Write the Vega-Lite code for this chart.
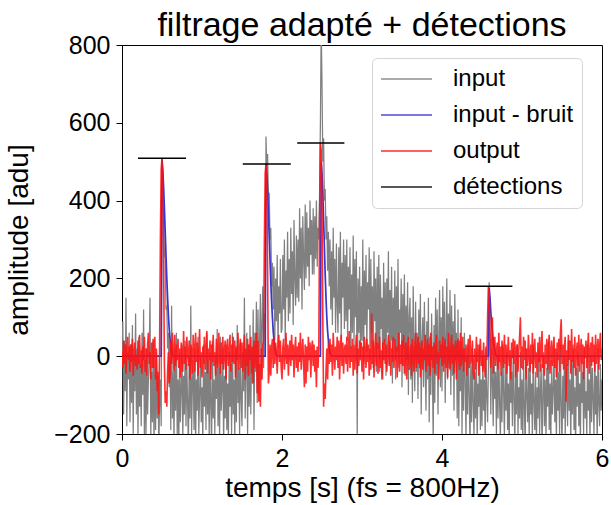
{
"$schema": "https://vega.github.io/schema/vega-lite/v6.json",
"width": 480, "height": 389,
"autosize": {"type": "none"},
"padding": {"left": 122, "top": 45, "right": 9, "bottom": 71},
"title": {"text": "filtrage adapté + détections"},
"datasets": {
"sig": [
{"t":0.00,"i":-20,"o":10},{"t":0.01,"i":90,"o":-30},{"t":0.02,"i":-150,"o":40},{"t":0.03,"i":40,"o":-20},{"t":0.04,"i":-90,"o":30},{"t":0.05,"i":150,"o":-45},{"t":0.06,"i":-180,"o":20},{"t":0.07,"i":10,"o":50},{"t":0.08,"i":-60,"o":-10},{"t":0.09,"i":60,"o":25},
{"t":0.10,"i":-170,"o":-40},{"t":0.11,"i":30,"o":30},{"t":0.12,"i":-120,"o":-15},{"t":0.13,"i":80,"o":45},{"t":0.14,"i":-200,"o":-50},{"t":0.15,"i":0,"o":10},{"t":0.16,"i":-90,"o":35},{"t":0.17,"i":110,"o":-25},{"t":0.18,"i":-150,"o":5},{"t":0.19,"i":20,"o":-35},
{"t":0.20,"i":-210,"o":40},{"t":0.21,"i":50,"o":-20},{"t":0.22,"i":-130,"o":55},{"t":0.23,"i":-20,"o":-30},{"t":0.24,"i":-180,"o":15},{"t":0.25,"i":60,"o":-45},{"t":0.26,"i":-100,"o":25},{"t":0.27,"i":120,"o":-10},{"t":0.28,"i":-220,"o":50},{"t":0.29,"i":-10,"o":-40},
{"t":0.30,"i":-200,"o":20},{"t":0.31,"i":20,"o":-50},{"t":0.32,"i":-150,"o":30},{"t":0.33,"i":-60,"o":60},{"t":0.34,"i":0,"o":-20},{"t":0.35,"i":150,"o":10},{"t":0.36,"i":-210,"o":-60},{"t":0.37,"i":-40,"o":35},{"t":0.38,"i":-170,"o":-30},{"t":0.39,"i":40,"o":45},
{"t":0.40,"i":-230,"o":-30},{"t":0.41,"i":-30,"o":50},{"t":0.42,"i":-190,"o":-60},{"t":0.43,"i":10,"o":20},{"t":0.44,"i":-160,"o":-90},{"t":0.45,"i":-50,"o":-40},{"t":0.46,"i":-240,"o":-150},{"t":0.47,"i":-120,"o":20},{"t":0.48,"i":-60,"o":300},{"t":0.49,"i":-180,"o":480},
{"t":0.50,"i":510,"o":509},{"t":0.51,"i":420,"o":450},{"t":0.52,"i":360,"o":250},{"t":0.53,"i":260,"o":-20},{"t":0.54,"i":250,"o":-120},{"t":0.55,"i":120,"o":-90},{"t":0.56,"i":130,"o":-130},{"t":0.57,"i":20,"o":-40},{"t":0.58,"i":60,"o":10},{"t":0.59,"i":-80,"o":-70},
{"t":0.60,"i":40,"o":-50},{"t":0.61,"i":-190,"o":40},{"t":0.62,"i":130,"o":-20},{"t":0.63,"i":-160,"o":60},{"t":0.64,"i":-40,"o":10},{"t":0.65,"i":-220,"o":-40},{"t":0.66,"i":20,"o":55},{"t":0.67,"i":-140,"o":-25},{"t":0.68,"i":60,"o":30},{"t":0.69,"i":-200,"o":-10},
{"t":0.70,"i":-60,"o":45},{"t":0.71,"i":-230,"o":-30},{"t":0.72,"i":10,"o":20},{"t":0.73,"i":-170,"o":-55},{"t":0.74,"i":-90,"o":35},{"t":0.75,"i":30,"o":0},{"t":0.76,"i":-210,"o":-40},{"t":0.77,"i":-50,"o":65},{"t":0.78,"i":-150,"o":-20},{"t":0.79,"i":40,"o":25},
{"t":0.80,"i":-180,"o":-35},{"t":0.81,"i":-20,"o":50},{"t":0.82,"i":-120,"o":10},{"t":0.83,"i":-240,"o":-25},{"t":0.84,"i":0,"o":40},{"t":0.85,"i":-160,"o":-60},{"t":0.86,"i":130,"o":30},{"t":0.87,"i":-200,"o":15},{"t":0.88,"i":-70,"o":-45},{"t":0.89,"i":-10,"o":55},
{"t":0.90,"i":-190,"o":20},{"t":0.91,"i":20,"o":-40},{"t":0.92,"i":-230,"o":60},{"t":0.93,"i":-60,"o":-15},{"t":0.94,"i":-140,"o":35},{"t":0.95,"i":50,"o":-50},{"t":0.96,"i":-200,"o":5},{"t":0.97,"i":-100,"o":70},{"t":0.98,"i":0,"o":-30},{"t":0.99,"i":-170,"o":10},
{"t":1.00,"i":-80,"o":-55},{"t":1.01,"i":-220,"o":25},{"t":1.02,"i":30,"o":-20},{"t":1.03,"i":-130,"o":50},{"t":1.04,"i":-40,"o":-35},{"t":1.05,"i":-190,"o":15},{"t":1.06,"i":60,"o":65},{"t":1.07,"i":-150,"o":-45},{"t":1.08,"i":-10,"o":20},{"t":1.09,"i":-210,"o":-10},
{"t":1.10,"i":10,"o":40},{"t":1.11,"i":-120,"o":-60},{"t":1.12,"i":-240,"o":30},{"t":1.13,"i":40,"o":-15},{"t":1.14,"i":-160,"o":55},{"t":1.15,"i":-60,"o":-25},{"t":1.16,"i":-200,"o":10},{"t":1.17,"i":0,"o":-50},{"t":1.18,"i":-110,"o":45},{"t":1.19,"i":70,"o":0},
{"t":1.20,"i":-180,"o":-30},{"t":1.21,"i":-30,"o":60},{"t":1.22,"i":-210,"o":-5},{"t":1.23,"i":50,"o":-45},{"t":1.24,"i":-140,"o":35},{"t":1.25,"i":-80,"o":-20},{"t":1.26,"i":20,"o":50},{"t":1.27,"i":-230,"o":-35},{"t":1.28,"i":-50,"o":15},{"t":1.29,"i":-160,"o":40},
{"t":1.30,"i":30,"o":-60},{"t":1.31,"i":-190,"o":20},{"t":1.32,"i":-70,"o":45},{"t":1.33,"i":-220,"o":-25},{"t":1.34,"i":10,"o":5},{"t":1.35,"i":-130,"o":55},{"t":1.36,"i":-20,"o":-40},{"t":1.37,"i":-200,"o":30},{"t":1.38,"i":60,"o":-15},{"t":1.39,"i":-150,"o":50},
{"t":1.40,"i":-60,"o":-20},{"t":1.41,"i":-210,"o":40},{"t":1.42,"i":20,"o":-55},{"t":1.43,"i":-170,"o":25},{"t":1.44,"i":80,"o":-10},{"t":1.45,"i":-120,"o":60},{"t":1.46,"i":-30,"o":-35},{"t":1.47,"i":-200,"o":15},{"t":1.48,"i":40,"o":45},{"t":1.49,"i":-110,"o":-30},
{"t":1.50,"i":-180,"o":35},{"t":1.51,"i":10,"o":-40},{"t":1.52,"i":-90,"o":10},{"t":1.53,"i":150,"o":55},{"t":1.54,"i":-160,"o":-60},{"t":1.55,"i":-20,"o":20},{"t":1.56,"i":60,"o":-25},{"t":1.57,"i":-200,"o":45},{"t":1.58,"i":30,"o":-50},{"t":1.59,"i":-130,"o":30},
{"t":1.60,"i":80,"o":-10},{"t":1.61,"i":-150,"o":50},{"t":1.62,"i":20,"o":-45},{"t":1.63,"i":-70,"o":25},{"t":1.64,"i":120,"o":-70},{"t":1.65,"i":-190,"o":40},{"t":1.66,"i":60,"o":-30},{"t":1.67,"i":-40,"o":15},{"t":1.68,"i":140,"o":60},{"t":1.69,"i":-120,"o":-95},
{"t":1.70,"i":120,"o":40},{"t":1.71,"i":-100,"o":-117},{"t":1.72,"i":40,"o":-20},{"t":1.73,"i":160,"o":-130},{"t":1.74,"i":-60,"o":20},{"t":1.75,"i":90,"o":-60},{"t":1.76,"i":180,"o":30},{"t":1.77,"i":-30,"o":40},{"t":1.78,"i":110,"o":300},{"t":1.79,"i":60,"o":470},
{"t":1.80,"i":565,"o":494},{"t":1.81,"i":480,"o":440},{"t":1.82,"i":520,"o":220},{"t":1.83,"i":400,"o":-70},{"t":1.84,"i":420,"o":-40},{"t":1.85,"i":300,"o":30},{"t":1.86,"i":330,"o":-50},{"t":1.87,"i":180,"o":20},{"t":1.88,"i":240,"o":45},{"t":1.89,"i":120,"o":-30},
{"t":1.90,"i":230,"o":50},{"t":1.91,"i":40,"o":-20},{"t":1.92,"i":200,"o":35},{"t":1.93,"i":90,"o":10},{"t":1.94,"i":260,"o":-45},{"t":1.95,"i":20,"o":25},{"t":1.96,"i":180,"o":55},{"t":1.97,"i":110,"o":-15},{"t":1.98,"i":250,"o":40},{"t":1.99,"i":60,"o":-30},
{"t":2.00,"i":70,"o":-60},{"t":2.01,"i":260,"o":20},{"t":2.02,"i":120,"o":45},{"t":2.03,"i":300,"o":-35},{"t":2.04,"i":40,"o":5},{"t":2.05,"i":220,"o":60},{"t":2.06,"i":150,"o":-20},{"t":2.07,"i":320,"o":30},{"t":2.08,"i":90,"o":-50},{"t":2.09,"i":250,"o":15},
{"t":2.10,"i":110,"o":40},{"t":2.11,"i":330,"o":-25},{"t":2.12,"i":160,"o":55},{"t":2.13,"i":270,"o":-10},{"t":2.14,"i":80,"o":30},{"t":2.15,"i":350,"o":-55},{"t":2.16,"i":200,"o":15},{"t":2.17,"i":130,"o":50},{"t":2.18,"i":310,"o":-30},{"t":2.19,"i":150,"o":25},
{"t":2.20,"i":300,"o":-40},{"t":2.21,"i":140,"o":35},{"t":2.22,"i":380,"o":-15},{"t":2.23,"i":200,"o":60},{"t":2.24,"i":330,"o":-35},{"t":2.25,"i":120,"o":10},{"t":2.26,"i":360,"o":45},{"t":2.27,"i":250,"o":-20},{"t":2.28,"i":170,"o":-80},{"t":2.29,"i":390,"o":30},
{"t":2.30,"i":200,"o":-70},{"t":2.31,"i":370,"o":25},{"t":2.32,"i":230,"o":-40},{"t":2.33,"i":330,"o":50},{"t":2.34,"i":180,"o":-10},{"t":2.35,"i":400,"o":35},{"t":2.36,"i":260,"o":-55},{"t":2.37,"i":350,"o":20},{"t":2.38,"i":210,"o":40},{"t":2.39,"i":380,"o":-25},
{"t":2.40,"i":210,"o":30},{"t":2.41,"i":360,"o":-40},{"t":2.42,"i":250,"o":15},{"t":2.43,"i":400,"o":-80},{"t":2.44,"i":230,"o":25},{"t":2.45,"i":330,"o":-30},{"t":2.46,"i":300,"o":20},{"t":2.47,"i":420,"o":350},{"t":2.48,"i":600,"o":548},{"t":2.49,"i":850,"o":530},
{"t":2.50,"i":700,"o":380},{"t":2.51,"i":500,"o":100},{"t":2.52,"i":560,"o":-130},{"t":2.53,"i":400,"o":-70},{"t":2.54,"i":430,"o":-110},{"t":2.55,"i":300,"o":-40},{"t":2.56,"i":360,"o":20},{"t":2.57,"i":220,"o":-60},{"t":2.58,"i":320,"o":35},{"t":2.59,"i":180,"o":-20},
{"t":2.60,"i":300,"o":45},{"t":2.61,"i":120,"o":-15},{"t":2.62,"i":270,"o":30},{"t":2.63,"i":80,"o":-50},{"t":2.64,"i":330,"o":60},{"t":2.65,"i":150,"o":10},{"t":2.66,"i":250,"o":-35},{"t":2.67,"i":60,"o":25},{"t":2.68,"i":290,"o":-10},{"t":2.69,"i":130,"o":50},
{"t":2.70,"i":60,"o":-30},{"t":2.71,"i":280,"o":40},{"t":2.72,"i":110,"o":-60},{"t":2.73,"i":320,"o":20},{"t":2.74,"i":40,"o":55},{"t":2.75,"i":240,"o":-25},{"t":2.76,"i":150,"o":35},{"t":2.77,"i":300,"o":-45},{"t":2.78,"i":70,"o":15},{"t":2.79,"i":260,"o":30},
{"t":2.80,"i":90,"o":-20},{"t":2.81,"i":300,"o":50},{"t":2.82,"i":40,"o":-40},{"t":2.83,"i":230,"o":10},{"t":2.84,"i":120,"o":65},{"t":2.85,"i":280,"o":-30},{"t":2.86,"i":20,"o":25},{"t":2.87,"i":210,"o":-15},{"t":2.88,"i":60,"o":45},{"t":2.89,"i":310,"o":-50},
{"t":2.90,"i":30,"o":30},{"t":2.91,"i":250,"o":-35},{"t":2.92,"i":100,"o":15},{"t":2.93,"i":270,"o":55},{"t":2.94,"i":-210,"o":-45},{"t":2.95,"i":200,"o":20},{"t":2.96,"i":60,"o":-25},{"t":2.97,"i":230,"o":40},{"t":2.98,"i":0,"o":-10},{"t":2.99,"i":180,"o":35},
{"t":3.00,"i":40,"o":-40},{"t":3.01,"i":300,"o":25},{"t":3.02,"i":-20,"o":-60},{"t":3.03,"i":220,"o":50},{"t":3.04,"i":80,"o":10},{"t":3.05,"i":260,"o":-30},{"t":3.06,"i":10,"o":45},{"t":3.07,"i":190,"o":-15},{"t":3.08,"i":120,"o":30},{"t":3.09,"i":280,"o":-50},
{"t":3.10,"i":-10,"o":20},{"t":3.11,"i":250,"o":-35},{"t":3.12,"i":60,"o":110},{"t":3.13,"i":180,"o":-20},{"t":3.14,"i":-30,"o":40},{"t":3.15,"i":270,"o":-55},{"t":3.16,"i":90,"o":15},{"t":3.17,"i":200,"o":60},{"t":3.18,"i":-40,"o":-25},{"t":3.19,"i":230,"o":35},
{"t":3.20,"i":20,"o":-45},{"t":3.21,"i":260,"o":20},{"t":3.22,"i":-40,"o":50},{"t":3.23,"i":210,"o":-30},{"t":3.24,"i":70,"o":15},{"t":3.25,"i":150,"o":-60},{"t":3.26,"i":-60,"o":35},{"t":3.27,"i":240,"o":-10},{"t":3.28,"i":30,"o":45},{"t":3.29,"i":190,"o":-20},
{"t":3.30,"i":-50,"o":30},{"t":3.31,"i":200,"o":-40},{"t":3.32,"i":60,"o":10},{"t":3.33,"i":270,"o":55},{"t":3.34,"i":-20,"o":-25},{"t":3.35,"i":170,"o":40},{"t":3.36,"i":40,"o":-50},{"t":3.37,"i":230,"o":20},{"t":3.38,"i":-70,"o":-15},{"t":3.39,"i":150,"o":50},
{"t":3.40,"i":40,"o":-30},{"t":3.41,"i":220,"o":45},{"t":3.42,"i":-60,"o":-10},{"t":3.43,"i":180,"o":25},{"t":3.44,"i":10,"o":-55},{"t":3.45,"i":250,"o":15},{"t":3.46,"i":-30,"o":60},{"t":3.47,"i":120,"o":-40},{"t":3.48,"i":60,"o":30},{"t":3.49,"i":200,"o":-20},
{"t":3.50,"i":-80,"o":40},{"t":3.51,"i":160,"o":-25},{"t":3.52,"i":20,"o":55},{"t":3.53,"i":210,"o":-45},{"t":3.54,"i":-50,"o":20},{"t":3.55,"i":130,"o":35},{"t":3.56,"i":-10,"o":-60},{"t":3.57,"i":190,"o":10},{"t":3.58,"i":-100,"o":50},{"t":3.59,"i":100,"o":-35},
{"t":3.60,"i":150,"o":-15},{"t":3.61,"i":-60,"o":30},{"t":3.62,"i":100,"o":-50},{"t":3.63,"i":-120,"o":45},{"t":3.64,"i":180,"o":5},{"t":3.65,"i":0,"o":-40},{"t":3.66,"i":-90,"o":25},{"t":3.67,"i":140,"o":60},{"t":3.68,"i":-40,"o":-30},{"t":3.69,"i":60,"o":15},
{"t":3.70,"i":-110,"o":50},{"t":3.71,"i":120,"o":-20},{"t":3.72,"i":-30,"o":35},{"t":3.73,"i":160,"o":-55},{"t":3.74,"i":-150,"o":10},{"t":3.75,"i":40,"o":40},{"t":3.76,"i":100,"o":-35},{"t":3.77,"i":-80,"o":20},{"t":3.78,"i":140,"o":-10},{"t":3.79,"i":-20,"o":55},
{"t":3.80,"i":-140,"o":-40},{"t":3.81,"i":90,"o":15},{"t":3.82,"i":-60,"o":45},{"t":3.83,"i":150,"o":-25},{"t":3.84,"i":-170,"o":30},{"t":3.85,"i":50,"o":-50},{"t":3.86,"i":-100,"o":60},{"t":3.87,"i":110,"o":-10},{"t":3.88,"i":-30,"o":25},{"t":3.89,"i":-220,"o":-30},
{"t":3.90,"i":80,"o":35},{"t":3.91,"i":-120,"o":-45},{"t":3.92,"i":150,"o":20},{"t":3.93,"i":-50,"o":55},{"t":3.94,"i":120,"o":-20},{"t":3.95,"i":-150,"o":10},{"t":3.96,"i":60,"o":-60},{"t":3.97,"i":170,"o":40},{"t":3.98,"i":-80,"o":-5},{"t":3.99,"i":100,"o":30},
{"t":4.00,"i":-90,"o":-25},{"t":4.01,"i":180,"o":50},{"t":4.02,"i":-20,"o":-40},{"t":4.03,"i":140,"o":15},{"t":4.04,"i":-120,"o":45},{"t":4.05,"i":60,"o":-30},{"t":4.06,"i":200,"o":25},{"t":4.07,"i":-60,"o":-55},{"t":4.08,"i":110,"o":60},{"t":4.09,"i":-30,"o":10},
{"t":4.10,"i":170,"o":-35},{"t":4.11,"i":-100,"o":20},{"t":4.12,"i":130,"o":55},{"t":4.13,"i":-50,"o":-20},{"t":4.14,"i":90,"o":30},{"t":4.15,"i":-140,"o":-45},{"t":4.16,"i":160,"o":15},{"t":4.17,"i":-10,"o":40},{"t":4.18,"i":60,"o":-60},{"t":4.19,"i":-160,"o":25},
{"t":4.20,"i":120,"o":45},{"t":4.21,"i":-180,"o":-10},{"t":4.22,"i":40,"o":-35},{"t":4.23,"i":-90,"o":60},{"t":4.24,"i":100,"o":-25},{"t":4.25,"i":-200,"o":10},{"t":4.26,"i":20,"o":50},{"t":4.27,"i":-140,"o":-40},{"t":4.28,"i":60,"o":20},{"t":4.29,"i":-60,"o":-15},
{"t":4.30,"i":-210,"o":30},{"t":4.31,"i":0,"o":-50},{"t":4.32,"i":-150,"o":15},{"t":4.33,"i":30,"o":45},{"t":4.34,"i":-100,"o":-30},{"t":4.35,"i":-230,"o":55},{"t":4.36,"i":-20,"o":-20},{"t":4.37,"i":-170,"o":-5},{"t":4.38,"i":20,"o":40},{"t":4.39,"i":-120,"o":-45},
{"t":4.40,"i":-200,"o":-60},{"t":4.41,"i":-40,"o":20},{"t":4.42,"i":-160,"o":-35},{"t":4.43,"i":10,"o":50},{"t":4.44,"i":-220,"o":-15},{"t":4.45,"i":-70,"o":30},{"t":4.46,"i":-130,"o":-50},{"t":4.47,"i":30,"o":10},{"t":4.48,"i":-190,"o":45},{"t":4.49,"i":-60,"o":-25},
{"t":4.50,"i":-180,"o":15},{"t":4.51,"i":0,"o":-40},{"t":4.52,"i":-140,"o":35},{"t":4.53,"i":-60,"o":-20},{"t":4.54,"i":-210,"o":-55},{"t":4.55,"i":20,"o":25},{"t":4.56,"i":-100,"o":-10},{"t":4.57,"i":-170,"o":100},{"t":4.58,"i":-30,"o":180},{"t":4.59,"i":190,"o":160},
{"t":4.60,"i":60,"o":60},{"t":4.61,"i":-150,"o":-30},{"t":4.62,"i":20,"o":20},{"t":4.63,"i":-60,"o":100},{"t":4.64,"i":-180,"o":-45},{"t":4.65,"i":10,"o":15},{"t":4.66,"i":-110,"o":50},{"t":4.67,"i":-40,"o":-25},{"t":4.68,"i":-200,"o":10},{"t":4.69,"i":0,"o":35},
{"t":4.70,"i":-160,"o":-35},{"t":4.71,"i":20,"o":60},{"t":4.72,"i":-120,"o":-15},{"t":4.73,"i":-220,"o":25},{"t":4.74,"i":-40,"o":-50},{"t":4.75,"i":-170,"o":40},{"t":4.76,"i":30,"o":5},{"t":4.77,"i":-90,"o":-30},{"t":4.78,"i":-210,"o":55},{"t":4.79,"i":-20,"o":-20},
{"t":4.80,"i":-140,"o":30},{"t":4.81,"i":10,"o":-45},{"t":4.82,"i":-190,"o":10},{"t":4.83,"i":-70,"o":50},{"t":4.84,"i":-230,"o":-25},{"t":4.85,"i":0,"o":15},{"t":4.86,"i":-120,"o":-60},{"t":4.87,"i":-40,"o":35},{"t":4.88,"i":-180,"o":-5},{"t":4.89,"i":20,"o":45},
{"t":4.90,"i":-110,"o":-20},{"t":4.91,"i":-230,"o":40},{"t":4.92,"i":-20,"o":-55},{"t":4.93,"i":-150,"o":20},{"t":4.94,"i":30,"o":30},{"t":4.95,"i":-200,"o":-40},{"t":4.96,"i":-80,"o":15},{"t":4.97,"i":-160,"o":50},{"t":4.98,"i":10,"o":100},{"t":4.99,"i":-190,"o":-30},
{"t":5.00,"i":-60,"o":25},{"t":5.01,"i":-220,"o":-35},{"t":5.02,"i":-10,"o":50},{"t":5.03,"i":-130,"o":-10},{"t":5.04,"i":-240,"o":40},{"t":5.05,"i":20,"o":-60},{"t":5.06,"i":-100,"o":20},{"t":5.07,"i":-170,"o":-25},{"t":5.08,"i":-30,"o":55},{"t":5.09,"i":-210,"o":5},
{"t":5.10,"i":0,"o":-40},{"t":5.11,"i":-150,"o":30},{"t":5.12,"i":-70,"o":-20},{"t":5.13,"i":-220,"o":60},{"t":5.14,"i":30,"o":-45},{"t":5.15,"i":-120,"o":15},{"t":5.16,"i":-190,"o":45},{"t":5.17,"i":-40,"o":-30},{"t":5.18,"i":-230,"o":10},{"t":5.19,"i":-80,"o":-55},
{"t":5.20,"i":-160,"o":35},{"t":5.21,"i":20,"o":-15},{"t":5.22,"i":-200,"o":50},{"t":5.23,"i":-90,"o":-40},{"t":5.24,"i":-20,"o":20},{"t":5.25,"i":-240,"o":65},{"t":5.26,"i":-110,"o":-30},{"t":5.27,"i":10,"o":0},{"t":5.28,"i":-180,"o":-50},{"t":5.29,"i":-60,"o":30},
{"t":5.30,"i":-210,"o":-20},{"t":5.31,"i":-30,"o":45},{"t":5.32,"i":-130,"o":-35},{"t":5.33,"i":40,"o":25},{"t":5.34,"i":-190,"o":55},{"t":5.35,"i":-70,"o":-45},{"t":5.36,"i":-230,"o":10},{"t":5.37,"i":-10,"o":40},{"t":5.38,"i":-150,"o":-25},{"t":5.39,"i":-90,"o":15},
{"t":5.40,"i":20,"o":50},{"t":5.41,"i":-170,"o":-30},{"t":5.42,"i":-60,"o":20},{"t":5.43,"i":-220,"o":-55},{"t":5.44,"i":10,"o":35},{"t":5.45,"i":-140,"o":-10},{"t":5.46,"i":-40,"o":45},{"t":5.47,"i":-200,"o":-40},{"t":5.48,"i":30,"o":60},{"t":5.49,"i":-120,"o":95},
{"t":5.50,"i":-230,"o":-20},{"t":5.51,"i":-50,"o":30},{"t":5.52,"i":-160,"o":-35},{"t":5.53,"i":0,"o":25},{"t":5.54,"i":-200,"o":50},{"t":5.55,"i":-90,"o":-117},{"t":5.56,"i":-20,"o":15},{"t":5.57,"i":-180,"o":-25},{"t":5.58,"i":40,"o":55},{"t":5.59,"i":-140,"o":-10},
{"t":5.60,"i":-60,"o":40},{"t":5.61,"i":-220,"o":-45},{"t":5.62,"i":-10,"o":70},{"t":5.63,"i":-150,"o":-15},{"t":5.64,"i":30,"o":20},{"t":5.65,"i":-190,"o":-30},{"t":5.66,"i":-80,"o":50},{"t":5.67,"i":-240,"o":-50},{"t":5.68,"i":-30,"o":10},{"t":5.69,"i":-130,"o":35},
{"t":5.70,"i":10,"o":-25},{"t":5.71,"i":-180,"o":55},{"t":5.72,"i":-70,"o":-40},{"t":5.73,"i":-230,"o":15},{"t":5.74,"i":0,"o":45},{"t":5.75,"i":-120,"o":-20},{"t":5.76,"i":-40,"o":30},{"t":5.77,"i":-200,"o":-60},{"t":5.78,"i":20,"o":25},{"t":5.79,"i":-160,"o":-5},
{"t":5.80,"i":-90,"o":40},{"t":5.81,"i":-210,"o":-30},{"t":5.82,"i":30,"o":20},{"t":5.83,"i":-140,"o":60},{"t":5.84,"i":-60,"o":-45},{"t":5.85,"i":-220,"o":10},{"t":5.86,"i":0,"o":35},{"t":5.87,"i":-170,"o":-25},{"t":5.88,"i":-30,"o":50},{"t":5.89,"i":-110,"o":-15},
{"t":5.90,"i":-200,"o":30},{"t":5.91,"i":10,"o":-40},{"t":5.92,"i":-150,"o":55},{"t":5.93,"i":-50,"o":-20},{"t":5.94,"i":-230,"o":15},{"t":5.95,"i":20,"o":45},{"t":5.96,"i":-120,"o":-35},{"t":5.97,"i":-180,"o":25},{"t":5.98,"i":-20,"o":60},{"t":5.99,"i":-140,"o":-10},
{"t":6.00,"i":-60,"o":20}
],
"clean": [
{"t":0,"b":0},{"t":0.49,"b":0},{"t":0.50,"b":505},{"t":0.51,"b":480},{"t":0.52,"b":435},{"t":0.53,"b":380},{"t":0.54,"b":320},{"t":0.55,"b":260},{"t":0.56,"b":200},{"t":0.57,"b":150},{"t":0.58,"b":105},{"t":0.59,"b":70},{"t":0.60,"b":45},{"t":0.61,"b":25},{"t":0.62,"b":12},{"t":0.63,"b":5},{"t":0.64,"b":0},
{"t":1.79,"b":0},{"t":1.80,"b":495},{"t":1.81,"b":470},{"t":1.82,"b":425},{"t":1.83,"b":370},{"t":1.84,"b":310},{"t":1.85,"b":250},{"t":1.86,"b":190},{"t":1.87,"b":140},{"t":1.88,"b":100},{"t":1.89,"b":65},{"t":1.90,"b":40},{"t":1.91,"b":22},{"t":1.92,"b":10},{"t":1.93,"b":3},{"t":1.94,"b":0},
{"t":2.48,"b":0},{"t":2.49,"b":500},{"t":2.50,"b":470},{"t":2.51,"b":420},{"t":2.52,"b":350},{"t":2.53,"b":280},{"t":2.54,"b":210},{"t":2.55,"b":150},{"t":2.56,"b":100},{"t":2.57,"b":65},{"t":2.58,"b":40},{"t":2.59,"b":22},{"t":2.60,"b":10},{"t":2.61,"b":3},{"t":2.62,"b":0},
{"t":4.58,"b":0},{"t":4.59,"b":175},{"t":4.60,"b":150},{"t":4.61,"b":115},{"t":4.62,"b":85},{"t":4.63,"b":60},{"t":4.64,"b":40},{"t":4.65,"b":25},{"t":4.66,"b":14},{"t":4.67,"b":6},{"t":4.68,"b":0},{"t":6,"b":0}
],
"det": [
{"t0":0.2,"t1":0.8,"y":509},{"t0":1.51,"t1":2.11,"y":494},{"t0":2.19,"t1":2.78,"y":548},{"t0":4.29,"t1":4.88,"y":180}
]
},
"layer": [
{"data": {"name": "sig"}, "mark": {"type": "line", "strokeWidth": 1.25, "clip": true},
 "encoding": {
  "x": {"field": "t", "type": "quantitative", "scale": {"domain": [0, 6], "nice": false}, "axis": {"values": [0, 2, 4, 6], "format": "d", "title": "temps [s] (fs = 800Hz)"}},
  "y": {"field": "i", "type": "quantitative", "scale": {"domain": [-200, 800], "nice": false}, "axis": {"values": [-200, 0, 200, 400, 600, 800], "title": "amplitude [adu]"}},
  "color": {"datum": "input", "type": "nominal", "scale": {"domain": ["input", "input - bruit", "output", "détections"], "range": ["#808080", "#3535d0", "#ff1010", "#000000"]}, "legend": {"orient": "none", "legendX": 250, "legendY": 13, "title": null}}
 }},
{"data": {"name": "clean"}, "mark": {"type": "line", "strokeWidth": 1.7, "clip": true},
 "encoding": {
  "x": {"field": "t", "type": "quantitative", "title": "temps [s] (fs = 800Hz)"},
  "y": {"field": "b", "type": "quantitative", "title": "amplitude [adu]"},
  "color": {"datum": "input - bruit", "type": "nominal"}
 }},
{"data": {"name": "sig"}, "mark": {"type": "line", "strokeWidth": 1.6, "clip": true, "opacity": 0.88},
 "encoding": {
  "x": {"field": "t", "type": "quantitative", "title": "temps [s] (fs = 800Hz)"},
  "y": {"field": "o", "type": "quantitative", "title": "amplitude [adu]"},
  "color": {"datum": "output", "type": "nominal"}
 }},
{"data": {"name": "det"}, "mark": {"type": "rule", "strokeWidth": 1.5},
 "encoding": {
  "x": {"field": "t0", "type": "quantitative", "title": "temps [s] (fs = 800Hz)"},
  "x2": {"field": "t1"},
  "y": {"field": "y", "type": "quantitative", "title": "amplitude [adu]"},
  "color": {"datum": "détections", "type": "nominal"}
 }}
],
"config": {
 "font": "Liberation Sans",
 "view": {"stroke": "black", "strokeWidth": 1},
 "axis": {"grid": false, "domainColor": "black", "tickColor": "black", "tickSize": 6, "labelFontSize": 25, "titleFontSize": 28, "titleFontWeight": "normal", "labelColor": "black", "titleColor": "black", "labelPadding": 6, "labelFlush": false},
 "axisX": {"titlePadding": 3},
 "axisY": {"titlePadding": 20},
 "title": {"fontSize": 34, "fontWeight": "normal", "offset": -10, "color": "black"},
 "legend": {"symbolType": "stroke", "symbolSize": 2601, "symbolStrokeWidth": 1.6, "labelFontSize": 24, "labelOffset": 20, "padding": 8, "clipHeight": 26, "fillColor": "white", "strokeColor": "#d5d5d5", "cornerRadius": 5, "rowPadding": 10, "labelColor": "black"}
}
}
